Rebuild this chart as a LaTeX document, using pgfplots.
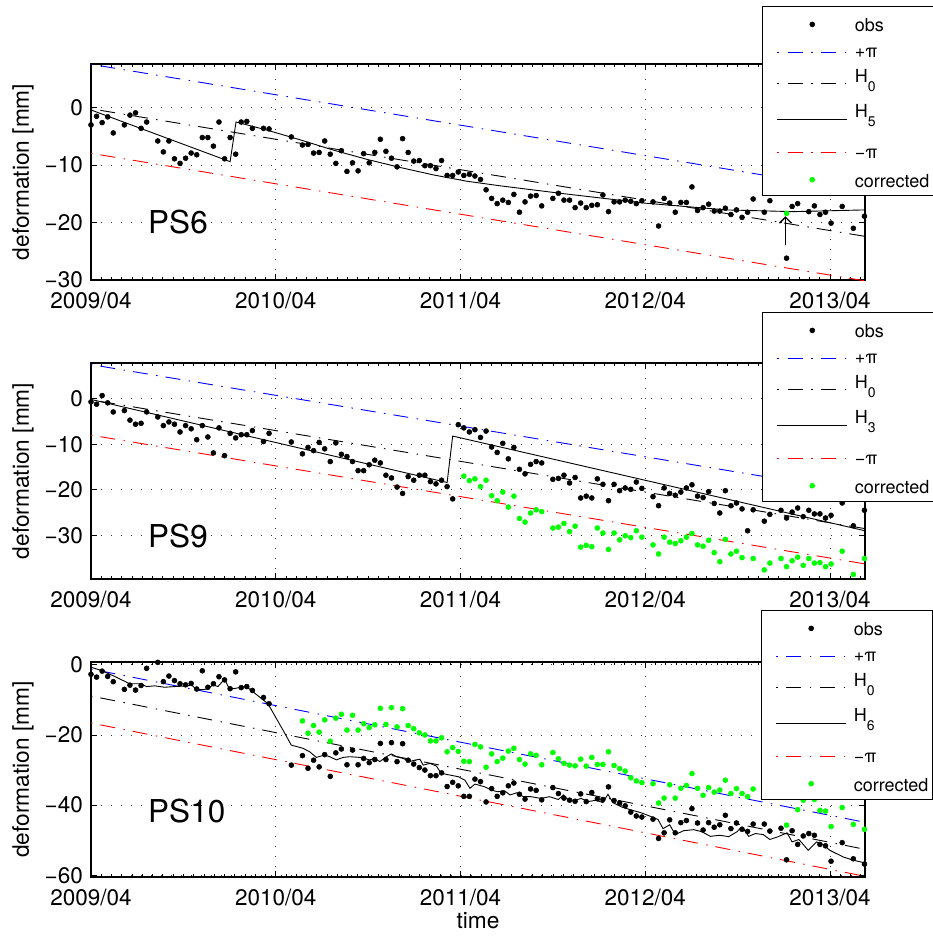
\documentclass[border=0pt]{standalone}
\usepackage{fontspec}
\setmainfont{TeX Gyre Heros}
\usepackage{pgfplots}
\pgfplotsset{compat=1.18}
\usetikzlibrary{arrows.meta}
\definecolor{mgreen}{rgb}{0,1,0}
\newcommand{\lent}[3]{\makebox[79bp][l]{\raisebox{0pt}[#1bp][#2bp]{#3}}}
\newcommand{\Hs}[1]{H\raisebox{-9bp}{\fontsize{14bp}{14bp}\selectfont #1}}
\newcommand{\Lobs}{\lent{21.2}{7.8}{obs}}
\newcommand{\Lpp}{\lent{18.9}{7.5}{+π}}
\newcommand{\Lmp}{\lent{22.1}{8.7}{−π}}
\newcommand{\Lcor}{\lent{20.2}{4.2}{corrected}}
\newcommand{\LHa}[1]{\lent{17.4}{19.4}{\Hs{#1}}}
\newcommand{\LHb}[1]{\lent{15.6}{19.0}{\Hs{#1}}}
\pgfplotsset{
  ps/.style={
    scale only axis, width=774bp,
    xmin=0, xmax=139.1,
    xtick={0,33.205,66.41,99.615,132.82},
    xticklabels={2009/04,2010/04,2011/04,2012/04,2013/04},
    minor xtick={1.8447,3.6894,...,139},
    tick align=inside,
    major tick length=6bp, minor tick length=3bp,
    every tick/.style={black, line width=0.8bp},
    axis line style={line width=1.3bp},
    grid=major,
    major grid style={black!80, line width=0.9bp, dash pattern=on 1bp off 9bp},
    tick label style={font=\fontsize{22.5bp}{27bp}\selectfont, inner sep=1bp},
    xticklabel style={yshift=-11bp},
    yticklabel style={xshift=-7bp},
    every axis y label/.style={at={(axis description cs:-0.0879,0.5)}, rotate=90, anchor=center,
      font=\fontsize{22.7bp}{27bp}\selectfont},
    ylabel={deformation [mm]},
    legend cell align=left,
    legend style={anchor=north west, draw=black, line width=1.2bp, fill=white,
      inner xsep=0bp, inner ysep=3.3bp, column sep=0bp, row sep=0bp,
      font=\fontsize{18bp}{21bp}\selectfont,
      nodes={inner sep=0bp, text height=, text depth=}},
  },
  legdd/.style={legend image code/.code={\path (-14bp,0bp) (77bp,0bp);
      \draw[only marks, mark=-, mark size=7.5bp, mark options={draw=#1, color=#1, line width=0.9bp, solid}] plot coordinates {(17.8bp,0bp) (51.2bp,0bp)};
      \draw[only marks, mark=-, mark size=0.75bp, mark options={draw=#1, color=#1, line width=0.9bp, solid}] plot coordinates {(0.75bp,0bp) (34.5bp,0bp) (68.25bp,0bp)};}},
  legsolid/.style={legend image code/.code={\path (-14bp,0bp) (77bp,0bp);
      \draw[only marks, mark=-, mark size=35bp, mark options={draw=black, color=black, line width=0.9bp, solid}] plot coordinates {(35bp,0bp)};}},
  legdot/.style={legend image code/.code={\path (-14bp,0bp) (77bp,0bp);
      \draw[color=#1, draw=#1, only marks, mark=*, mark size=2.5bp, mark options={fill=#1, draw=#1, line width=0.5bp}] plot coordinates {(35bp,0bp)};}},
  obs/.style={only marks, mark=*, mark size=2.5bp, black, mark options={fill=black, draw=black, line width=0.5bp}, legdot=black},
  cor/.style={only marks, mark=*, mark size=2.5bp, mgreen, mark options={fill=mgreen, draw=mgreen, line width=0.5bp}, legdot=mgreen},
  dd/.style={line width=0.9bp, dash pattern=on 1.5bp off 8bp on 15bp off 8.5bp, #1, legdd=#1},
  hh/.style={line width=0.9bp, black, solid, legsolid},
}
\begin{document}
\begin{tikzpicture}
% ---------------- PS6 ----------------
\begin{axis}[ps, at={(91bp,-280bp)}, anchor=south west, height=216bp,
  ymin=-30, ymax=7.6, ytick={-30,-20,-10,0}, yticklabels={−30,−20,−10,0},
  legend style={at={(0.867,1.2685)}}]
\addplot[obs] coordinates {(0,-3.0) (1,-1.5) (2,-2.6) (3,-1.6) (4,-4.4) (6,-3.0) (7,-1.3) (8,-0.9) (9,-3.6) (10,-2.5) (12,-5.8) (13,-7.7) (14,-5.8) (15,-8.9) (16,-9.7) (17,-8.8) (18,-7.9) (19,-8.2) (20,-5.2) (21,-5.2) (22,-6.7) (23,-2.5) (24,-8.9) (25,-5.2) (26,-8.1) (27,-2.5) (28,-2.4) (29,-3.6) (31,-3.6) (32,-3.7) (36,-5.1) (38,-6.5) (39,-6.4) (40,-7.9) (41,-7.8) (42,-5.8) (43,-8.1) (44,-9.7) (45,-7.5) (46,-11.1) (47,-9.6) (48,-11.0) (49,-8.0) (50,-9.6) (51,-7.8) (52,-5.5) (53,-7.6) (54,-8.8) (55,-10.3) (56,-5.4) (57,-7.8) (58,-9.3) (59,-9.2) (60,-10.1) (61,-10.1) (62,-10.6) (63,-9.2) (64,-11.8) (65,-11.8) (66,-11.2) (67,-11.8) (68,-11.6) (69,-11.9) (70,-12.5) (71,-14.3) (72,-15.8) (73,-16.7) (74,-16.1) (75,-16.5) (76,-15.1) (77,-18.2) (78,-16.4) (79,-15.4) (80,-15.3) (81,-17.1) (83,-15.8) (84,-14.9) (85,-16.1) (86,-16.1) (87,-17.4) (88,-16.6) (89,-17.4) (90,-17.0) (91,-16.9) (92,-15.2) (93,-18.1) (94,-16.4) (95,-16.4) (96,-16.1) (97,-16.3) (98,-16.7) (99,-16.2) (101,-16.4) (102,-20.6) (103,-15.8) (104,-16.6) (105,-18.2) (106,-16.5) (107,-16.5) (108,-13.8) (109,-17.9) (110,-17.4) (111,-16.8) (112,-18.0) (113,-18.0) (114,-17.5) (115,-18.6) (116,-17.8) (117,-19.1) (118,-18.2) (119,-15.9) (121,-18.2) (122,-16.2) (125,-26.2) (126,-17.2) (127,-16.7) (129,-18.1) (130,-17.1) (131,-18.6) (132,-18.2) (133,-20.1) (135,-17.2) (137,-21.0) (139,-18.9)};
\addlegendentry{\Lobs}
\addplot[dd=blue] coordinates {(0,7.55) (139.1,-14.65)};
\addlegendentry{\Lpp}
\addplot[dd=black] coordinates {(0,-0.2) (139.1,-22.4)};
\addlegendentry{\LHa{0}}
\addplot[hh] coordinates {(0,-0.4) (25,-9.4) (26.06,-2.5) (31.6,-3.9) (37.6,-5.6) (43.6,-7.4) (49.6,-9.0) (55.5,-10.4) (61.5,-11.7) (67.5,-12.8) (73.5,-13.6) (84.3,-14.9) (99.3,-16.6) (114.2,-17.8) (126.2,-18.1) (139.1,-17.8)};
\addlegendentry{\LHb{5}}
\addplot[dd=red] coordinates {(0,-7.95) (139.1,-30.15)};
\addlegendentry{\Lmp}
\addplot[cor] coordinates {(125,-18.4)};
\addlegendentry{\Lcor}
\draw[black, line width=1.3bp, -{Straight Barb[length=6bp,width=12bp]}] (axis cs:124.8,-23.9) -- (axis cs:124.8,-18.9);
\node[anchor=base west, inner sep=0pt, font=\fontsize{31.5bp}{36bp}\selectfont] at (axis cs:10.25,-21.9) {PS6};
\end{axis}
% ---------------- PS9 ----------------
\begin{axis}[ps, at={(91bp,-579bp)}, anchor=south west, height=216bp,
  ymin=-39.6, ymax=7.85, ytick={-30,-20,-10,0}, yticklabels={−30,−20,−10,0},
  legend style={at={(0.867,1.236)}}]
\addplot[obs] coordinates {(0,-0.7) (1,-1.2) (2,0.7) (3,-0.9) (4,-2.9) (6,-2.6) (7,-4.7) (8,-5.6) (9,-5.4) (10,-2.9) (12,-4.0) (13,-5.9) (14,-5.1) (15,-5.6) (16,-7.3) (17,-5.9) (18,-6.6) (19,-9.0) (20,-5.9) (21,-8.4) (22,-11.9) (23,-6.4) (24,-12.5) (25,-7.6) (26,-8.6) (27,-7.9) (28,-7.9) (29,-7.0) (31,-9.4) (32,-7.6) (36,-9.5) (38,-12.1) (39,-10.7) (40,-11.4) (41,-9.6) (42,-11.0) (43,-13.8) (44,-9.7) (45,-12.2) (46,-12.7) (47,-13.8) (48,-15.8) (49,-15.8) (50,-14.5) (51,-13.5) (52,-14.1) (53,-16.8) (54,-17.4) (55,-19.4) (56,-20.8) (57,-17.1) (58,-17.9) (59,-16.8) (60,-16.8) (61,-18.2) (62,-18.7) (63,-17.9) (64,-19.3) (65,-22.0) (66,-5.7) (67,-6.4) (68,-7.3) (69,-6.8) (70,-8.5) (71,-7.1) (72,-10.6) (73,-11.8) (74,-9.8) (75,-13.2) (76,-10.7) (77,-15.5) (78,-16.5) (79,-14.4) (80,-13.8) (81,-14.1) (83,-17.7) (84,-17.5) (85,-16.8) (86,-18.5) (87,-17.3) (88,-21.8) (89,-21.4) (90,-21.8) (91,-17.6) (92,-18.8) (93,-22.4) (94,-18.8) (95,-20.2) (96,-19.6) (97,-19.9) (98,-18.3) (99,-19.7) (101,-21.5) (102,-23.5) (103,-19.6) (104,-20.8) (105,-21.2) (106,-20.5) (107,-19.6) (108,-18.9) (109,-21.4) (110,-21.7) (111,-20.4) (112,-23.0) (113,-25.1) (114,-20.2) (115,-23.5) (116,-22.9) (117,-24.2) (118,-29.0) (119,-24.4) (121,-26.9) (122,-25.4) (124,-24.5) (125,-26.2) (126,-24.9) (127,-24.0) (128,-25.9) (129,-24.5) (130,-25.3) (131,-25.3) (132,-26.2) (133,-25.6) (135,-22.9) (137,-27.9) (139,-24.5)};
\addlegendentry{\Lobs}
\addplot[dd=blue] coordinates {(0,7.5) (139.1,-20.78)};
\addlegendentry{\Lpp}
\addplot[dd=black] coordinates {(0,-0.25) (139.1,-28.53)};
\addlegendentry{\LHa{0}}
\addplot[hh] coordinates {(0,-0.15) (64,-18.4) (65,-8.2) (139.1,-29.0)};
\addlegendentry{\LHb{3}}
\addplot[dd=red] coordinates {(0,-8.0) (139.1,-36.28)};
\addlegendentry{\Lmp}
\addplot[cor] coordinates {(67,-17.0) (68,-18.0) (69,-17.6) (70,-19.3) (71,-17.9) (72,-21.3) (73,-22.4) (74,-20.5) (75,-23.8) (76,-21.4) (77,-26.3) (78,-27.1) (79,-25.1) (80,-24.4) (81,-24.8) (83,-28.4) (84,-28.2) (85,-27.4) (86,-29.2) (87,-28.0) (88,-32.6) (89,-32.2) (90,-32.5) (91,-28.4) (92,-29.5) (93,-33.1) (94,-29.5) (95,-31.0) (96,-30.1) (97,-30.5) (98,-29.0) (99,-30.4) (101,-32.1) (102,-34.1) (103,-30.4) (104,-31.5) (105,-31.8) (106,-31.2) (107,-30.4) (108,-29.6) (109,-32.1) (110,-32.4) (111,-31.1) (112,-33.8) (113,-35.8) (114,-30.9) (115,-34.1) (116,-33.5) (117,-34.9) (118,-39.7) (119,-35.1) (121,-37.6) (122,-36.1) (124,-35.1) (125,-36.9) (126,-35.6) (127,-34.8) (128,-36.6) (129,-35.1) (130,-36.1) (131,-36.0) (132,-36.9) (133,-36.3) (135,-33.5) (137,-38.6) (139,-35.1)};
\addlegendentry{\Lcor}
\node[anchor=base west, inner sep=0pt, font=\fontsize{31.5bp}{36bp}\selectfont] at (axis cs:10.25,-32.7) {PS9};
\end{axis}
% ---------------- PS10 ----------------
\begin{axis}[ps, at={(91bp,-877bp)}, anchor=south west, height=215bp,
  ymin=-60.5, ymax=0.8, ytick={-60,-40,-20,0}, yticklabels={−60,−40,−20,0},
  xlabel={time},
  every axis x label/.style={at={(axis description cs:0.5,0)}, anchor=north, yshift=-31.5bp,
    font=\fontsize{22.7bp}{27bp}\selectfont},
  legend style={at={(0.8656,1.2419)}}]
\addplot[obs] coordinates {(0,-2.7) (1,-3.5) (2,-1.8) (3,-3.3) (4,-4.8) (6,-7.0) (7,-5.8) (8,-7.2) (9,-5.9) (10,-1.0) (12,0.7) (13,-4.8) (14,-3.2) (15,-4.5) (16,-5.4) (17,-5.7) (18,-5.3) (19,-6.9) (20,-1.7) (21,-6.4) (22,-5.4) (23,-3.4) (24,-4.3) (25,-6.8) (26,-2.0) (27,-6.5) (28,-6.2) (29,-7.3) (31,-9.3) (32,-11.1) (36,-28.6) (38,-25.9) (39,-29.5) (40,-27.2) (41,-29.1) (42,-25.6) (43,-31.8) (44,-25.1) (45,-24.0) (46,-28.5) (47,-24.3) (48,-28.5) (49,-26.7) (50,-27.9) (51,-27.0) (52,-22.4) (53,-27.0) (54,-22.2) (55,-27.6) (56,-22.5) (57,-27.2) (58,-28.3) (59,-29.3) (60,-30.0) (61,-31.6) (62,-31.6) (63,-30.8) (64,-34.7) (65,-33.5) (66,-34.5) (67,-37.5) (68,-37.5) (69,-32.6) (70,-33.3) (71,-39.1) (72,-35.3) (73,-37.5) (74,-36.5) (75,-34.5) (76,-33.7) (77,-36.9) (78,-38.3) (79,-35.4) (80,-35.8) (81,-38.5) (83,-35.0) (84,-36.7) (85,-38.0) (86,-38.6) (87,-38.9) (88,-36.8) (89,-39.0) (90,-36.4) (91,-38.2) (92,-38.4) (93,-34.8) (94,-38.7) (95,-39.4) (96,-40.2) (97,-42.0) (98,-43.1) (99,-43.4) (101,-44.0) (102,-49.5) (103,-47.9) (104,-44.2) (105,-47.9) (106,-45.0) (107,-44.4) (108,-41.0) (109,-45.1) (110,-47.1) (111,-45.0) (112,-46.3) (113,-45.6) (114,-42.9) (115,-46.7) (116,-45.1) (117,-46.9) (118,-47.5) (119,-45.4) (121,-45.4) (122,-47.4) (124,-46.6) (125,-55.6) (126,-47.3) (127,-51.2) (128,-48.8) (129,-48.1) (130,-48.6) (131,-51.2) (132,-51.6) (133,-56.0) (135,-50.7) (137,-55.3) (139,-56.8)};
\addlegendentry{\Lobs}
\addplot[dd=blue] coordinates {(0,-1.2) (139.1,-44.9)};
\addlegendentry{\Lpp}
\addplot[dd=black] coordinates {(0,-8.9) (139.1,-52.6)};
\addlegendentry{\LHa{0}}
\addplot[hh] coordinates {(0,-0.7) (1.86,-1.6) (4.25,-3.3) (6.94,-5.4) (9.03,-5.4) (9.96,-6.2) (11.45,-6.0) (13.25,-6.4) (15.04,-6.2) (17.43,-6.0) (18.03,-5.7) (18.92,-7.0) (19.82,-7.1) (21.0,-6.9) (21.9,-5.7) (22.8,-6.2) (24.0,-4.1) (24.9,-7.0) (27.0,-6.4) (27.9,-6.2) (28.8,-7.3) (31.8,-11.1) (34.5,-18.6) (36.0,-22.9) (38.1,-23.8) (39.3,-24.8) (40.5,-26.4) (42.0,-25.7) (42.9,-26.2) (44.1,-27.1) (45.3,-26.4) (46.5,-26.2) (48.3,-26.4) (50.1,-27.1) (51.0,-26.7) (51.9,-27.6) (53.1,-26.2) (54.0,-25.4) (54.9,-26.2) (56.1,-26.7) (57.3,-27.6) (57.9,-27.3) (59.1,-26.9) (59.7,-28.6) (60.9,-28.1) (62.1,-28.9) (62.9,-30.9) (64.4,-31.4) (66.0,-31.9) (67.2,-32.9) (68.1,-35.2) (69.0,-34.0) (70.8,-34.8) (71.9,-35.7) (73.1,-36.2) (74.3,-35.9) (75.3,-37.1) (76.5,-36.5) (77.7,-37.6) (79.1,-37.6) (80.9,-38.1) (82.4,-37.6) (84.0,-38.4) (84.9,-37.1) (85.8,-38.6) (87.0,-38.6) (88.1,-38.1) (89.3,-39.0) (90.8,-38.6) (92.0,-39.3) (92.9,-36.9) (93.8,-39.3) (95.3,-40.5) (97.1,-41.4) (98.9,-42.2) (100.7,-43.3) (101.9,-44.1) (102.8,-46.7) (104.0,-45.6) (105.0,-48.4) (106.5,-47.3) (108.3,-47.0) (109.8,-47.6) (111.3,-48.9) (113.0,-48.6) (114.6,-49.0) (116.1,-47.6) (117.0,-46.2) (118.2,-48.9) (119.4,-48.1) (120.8,-48.4) (122.0,-49.8) (123.5,-49.0) (125.1,-47.9) (126.0,-50.5) (127.2,-49.8) (128.1,-51.4) (128.9,-52.9) (130.4,-50.5) (131.6,-51.4) (132.8,-52.9) (135.2,-54.8) (137.0,-55.7) (139.1,-56.5)};
\addlegendentry{\LHb{6}}
\addplot[dd=red] coordinates {(0,-16.6) (139.1,-60.3)};
\addlegendentry{\Lmp}
\addplot[cor] coordinates {(38,-16.0) (39,-19.5) (40,-17.3) (41,-19.2) (42,-15.7) (43,-21.8) (44,-15.2) (45,-14.1) (46,-18.6) (47,-14.4) (48,-18.6) (49,-16.8) (50,-17.9) (51,-17.1) (52,-12.4) (53,-17.0) (54,-12.2) (55,-17.7) (56,-12.5) (57,-17.3) (58,-18.2) (59,-19.4) (60,-20.0) (61,-21.7) (62,-21.7) (63,-20.8) (64,-24.8) (65,-23.6) (66,-24.7) (67,-27.5) (68,-27.6) (69,-22.7) (70,-23.4) (71,-29.2) (72,-25.4) (73,-27.6) (74,-26.6) (75,-24.6) (76,-23.8) (77,-27.0) (78,-28.3) (79,-25.4) (80,-25.8) (81,-28.5) (83,-25.0) (84,-26.8) (85,-28.1) (86,-28.6) (87,-28.8) (88,-26.9) (89,-28.9) (90,-26.4) (91,-28.4) (92,-28.4) (93,-24.8) (94,-28.7) (95,-29.6) (96,-30.3) (97,-32.2) (98,-33.1) (99,-33.6) (101,-33.9) (102,-39.4) (103,-38.0) (104,-34.2) (105,-38.0) (106,-35.2) (107,-34.4) (108,-31.0) (109,-35.2) (110,-37.2) (111,-35.0) (112,-36.3) (113,-35.7) (114,-32.9) (115,-36.7) (116,-35.3) (117,-36.7) (118,-37.6) (119,-35.4) (125,-45.7) (127,-41.3) (128,-38.6) (130,-38.4) (131,-41.5) (132,-41.7) (133,-46.1) (135,-40.7) (137,-45.5) (139,-46.9)};
\addlegendentry{\Lcor}
\node[anchor=base west, inner sep=0pt, font=\fontsize{31.5bp}{36bp}\selectfont] at (axis cs:10.25,-45.1) {PS10};
\end{axis}
\pgfresetboundingbox
\path[use as bounding box] (0bp,0bp) rectangle (933bp,-938bp);
\end{tikzpicture}
\end{document}
